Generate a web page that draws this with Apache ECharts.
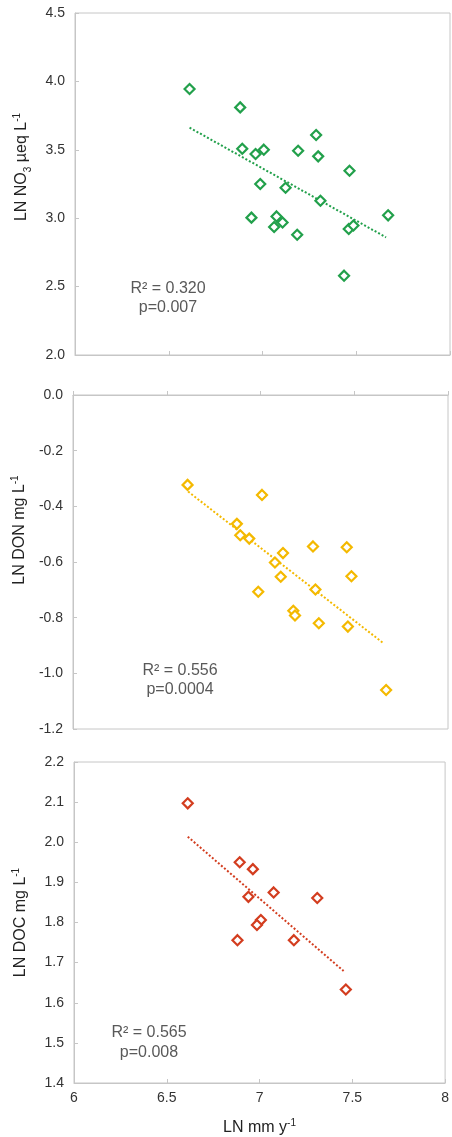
<!DOCTYPE html>
<html>
<head>
<meta charset="utf-8">
<script src="https://cdn.jsdelivr.net/npm/echarts/dist/echarts.min.js"></script>
<style>html,body{margin:0;padding:0;background:#fff}#c{width:452px;height:1137px}</style>
</head>
<body>
<div id="c"></div>
<script>
// ---- data ----
var xTicks = [6, 6.5, 7, 7.5, 8];

var no3X = [6.611,6.881,6.892,6.963,7.007,7.190,7.286,7.297,7.464,6.988,7.123,7.309,7.670,6.941,7.075,7.107,7.062,7.185,7.460,7.485,7.435];
var no3Y = [3.944,3.810,3.508,3.469,3.501,3.493,3.608,3.452,3.347,3.250,3.223,3.128,3.021,3.004,3.013,2.969,2.936,2.879,2.921,2.947,2.580];
var no3TrendX = [6.611, 7.659];
var no3TrendY = [3.662, 2.860];

var donX = [6.611,7.008,6.874,6.892,6.940,7.120,7.280,7.460,7.077,7.108,7.485,6.988,7.293,7.175,7.184,7.311,7.466,7.670];
var donY = [-0.323,-0.359,-0.463,-0.504,-0.516,-0.568,-0.544,-0.547,-0.602,-0.653,-0.651,-0.707,-0.699,-0.775,-0.792,-0.820,-0.832,-1.060];
var donTrendX = [6.614, 7.656];
var donTrendY = [-0.347, -0.892];

var docX = [6.613,6.893,6.964,6.940,7.076,7.311,7.007,6.986,6.881,7.185,7.465];
var docY = [2.097,1.950,1.933,1.864,1.875,1.861,1.806,1.794,1.756,1.756,1.633];
var docTrendX = [6.613, 7.453];
var docTrendY = [2.014, 1.679];

var stats = [
  ['R\u00b2 = 0.320', 'p=0.007'],
  ['R\u00b2 = 0.556', 'p=0.0004'],
  ['R\u00b2 = 0.565', 'p=0.008']
];

var colors = ['#22a04b', '#f4b900', '#d33d1f'];

function zip(a, b) { return a.map(function (v, i) { return [v, b[i]]; }); }

// ---- chart ----
var FONT = 'Liberation Sans, Arial, sans-serif';
var gridLine = '#c6c6c6';

var grids = [
  {left: 75, top: 13, width: 375, height: 342},
  {left: 73, top: 395, width: 375, height: 334},
  {left: 74, top: 762, width: 375, height: 321}
];
grids.forEach(function (g) { g.show = true; g.borderColor = gridLine; g.borderWidth = 1; g.backgroundColor = '#fff'; });

function xAxis(i, showLabels) {
  return {
    type: 'value', gridIndex: i, min: 6, max: 8, interval: 0.5,
    axisLine: {show: true, lineStyle: {color: gridLine}},
    axisTick: {show: true, inside: true, length: 4, lineStyle: {color: gridLine}},
    splitLine: {show: false},
    axisLabel: {show: showLabels, color: '#333', fontFamily: FONT, fontSize: 14, margin: 8},
    name: showLabels ? '{a|LN mm y}{p|-1}' : '',
    nameLocation: 'middle', nameGap: 35,
    nameTextStyle: {rich: {
      a: {fontFamily: FONT, fontSize: 16, color: '#222', lineHeight: 18, verticalAlign: 'bottom'},
      p: {fontFamily: FONT, fontSize: 10, color: '#222', lineHeight: 18, verticalAlign: 'top'}
    }}
  };
}

function yAxis(i, min, max, interval, nameStr, shift) {
  return {
    type: 'value', gridIndex: i, min: min, max: max, interval: interval,
    axisLine: {show: true, lineStyle: {color: gridLine}},
    axisTick: {show: true, inside: true, length: 4, lineStyle: {color: gridLine}},
    splitLine: {show: false},
    axisLabel: {color: '#333', fontFamily: FONT, fontSize: 14, margin: 10,
      formatter: function (v) { return v.toFixed(1); }},
    name: nameStr, nameLocation: 'middle', nameRotate: 90, nameGap: 45,
    nameTextStyle: {
      padding: [0, 0, 0, shift],
      rich: {
        a: {fontFamily: FONT, fontSize: 16, color: '#222', lineHeight: 18, verticalAlign: 'bottom'},
        s: {fontFamily: FONT, fontSize: 10, color: '#222', lineHeight: 18, verticalAlign: 'bottom', padding: [0, 0, -3, 0]},
        p: {fontFamily: FONT, fontSize: 10, color: '#222', lineHeight: 18, verticalAlign: 'top'}
      }
    }
  };
}

function scatter(i, xs, ys) {
  return {
    type: 'scatter', xAxisIndex: i, yAxisIndex: i, data: zip(xs, ys),
    symbol: 'diamond', symbolSize: 10, z: 3,
    itemStyle: {color: '#fff', borderColor: colors[i], borderWidth: 2.2, opacity: 1}
  };
}
function trend(i, xs, ys) {
  return {
    type: 'line', xAxisIndex: i, yAxisIndex: i, data: zip(xs, ys),
    symbol: 'none', z: 2, silent: true,
    lineStyle: {color: colors[i], width: 2, type: [2, 2]}
  };
}

var statPos = [[168, 289, 308], [180, 671, 690], [149, 1033, 1053]];
var graphics = [];
stats.forEach(function (s, i) {
  graphics.push({type: 'text', x: statPos[i][0], y: statPos[i][1], z: 10,
    style: {text: s[0], fill: '#595959', font: '16px ' + FONT, textAlign: 'center', textVerticalAlign: 'middle'}});
  graphics.push({type: 'text', x: statPos[i][0], y: statPos[i][2], z: 10,
    style: {text: s[1], fill: '#595959', font: '16px ' + FONT, textAlign: 'center', textVerticalAlign: 'middle'}});
});

var option = {
  animation: false,
  backgroundColor: '#fff',
  grid: grids,
  xAxis: [xAxis(0, false), xAxis(1, false), xAxis(2, true)],
  yAxis: [
    yAxis(0, 2.0, 4.5, 0.5, '{a|LN NO}{s|3}{a| \u00b5eq L}{p|-1}', 34),
    yAxis(1, -1.2, 0.0, 0.2, '{a|LN DON mg L}{p|-1}', 64),
    yAxis(2, 1.4, 2.2, 0.1, '{a|LN DOC mg L}{p|-1}', 0)
  ],
  series: [
    trend(0, no3TrendX, no3TrendY), scatter(0, no3X, no3Y),
    trend(1, donTrendX, donTrendY), scatter(1, donX, donY),
    trend(2, docTrendX, docTrendY), scatter(2, docX, docY)
  ],
  graphic: graphics
};

var chart = echarts.init(document.getElementById('c'), null, {renderer: 'canvas'});
chart.setOption(option);
</script>
</body>
</html>
